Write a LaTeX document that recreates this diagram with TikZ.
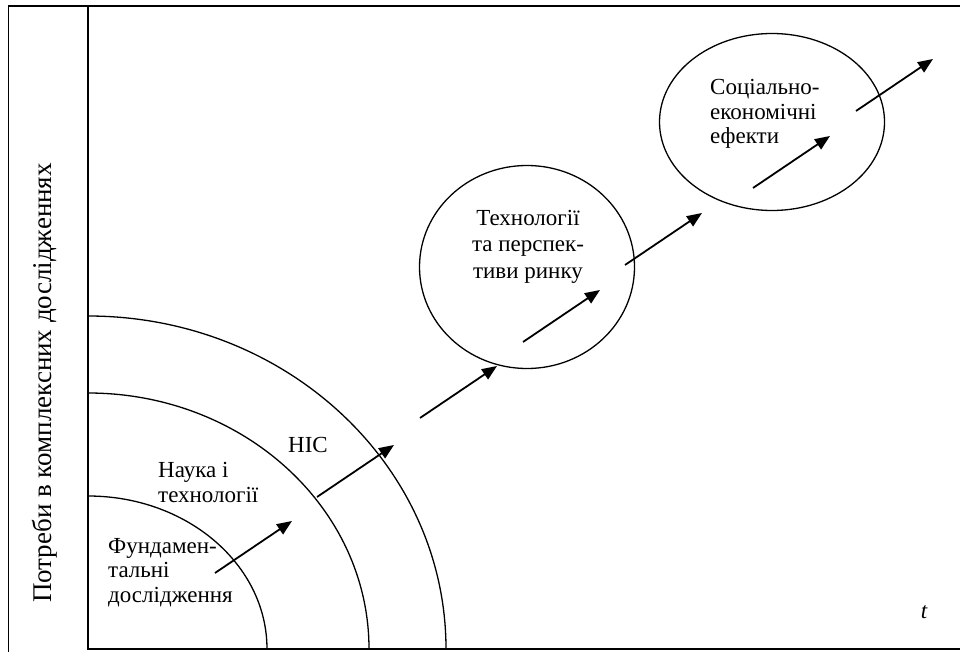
\documentclass[tikz,border=0pt]{standalone}
\usepackage{fontspec}
\setmainfont{Liberation Serif}
\usetikzlibrary{arrows.meta,shapes.geometric}
\tikzset{
  flow/.style={line width=1.8pt, -{Triangle[length=15pt,width=12pt]}},
  zone/.style={draw, ellipse, line width=1.3pt, inner sep=0pt},
  lbl/.style={font=\fontsize{23}{24.5}\selectfont, inner sep=0pt, align=left}
}
\begin{document}
\begin{tikzpicture}[x=1pt,y=-1pt]
\useasboundingbox (0,0) rectangle (960,652);
\draw[line width=1.6pt] (8.5,652)--(8.5,6)--(960,6);
\coordinate (O) at (88,649);
\draw[line width=1.6pt] (88,6)--(O)--(960,649);
\draw[line width=1.3pt] (88,496) arc[start angle=-90,end angle=0,x radius=179,y radius=153];
\draw[line width=1.3pt] (88,393) arc[start angle=-90,end angle=0,x radius=281,y radius=256];
\draw[line width=1.3pt] (88,316) arc[start angle=-90,end angle=0,x radius=358,y radius=333];
\node[lbl, font=\fontsize{27}{29}\selectfont, rotate=90] (need) at (45,383) {Потреби в комплексних дослідженнях};
\node[lbl, anchor=base west] (fund) at (108,602) {Фундамен-\\тальні\\дослідження};
\node[lbl, anchor=base west] (sci) at (158,502) {Наука і\\технології};
\node[lbl, anchor=base west] (nis) at (288,452) {НІС};
\node[zone, minimum width=215, minimum height=203] (tech) at (527,267) {};
\node[lbl, font=\fontsize{23}{26.5}\selectfont, align=center, anchor=base] (techtxt) at (528,278) {Технології\\та перспек-\\тиви ринку};
\node[zone, minimum width=225, minimum height=177] (soc) at (772,122) {};
\node[lbl, anchor=base west] (soctxt) at (710,144) {Соціально-\\економічні\\ефекти};
\node[lbl, font=\fontsize{23}{25}\selectfont\itshape, anchor=base] (t) at (924,618) {t};
\foreach \i/\x/\y in {1/215/573, 2/317/497, 3/420/418, 4/523/342, 5/625/265, 6/753/188, 7/856/111}{
  \coordinate (s\i) at (\x,\y);
  \coordinate (e\i) at ([shift={(77,-52)}]s\i);
  \draw[flow] (s\i) -- (e\i);
}
\end{tikzpicture}
\end{document}
